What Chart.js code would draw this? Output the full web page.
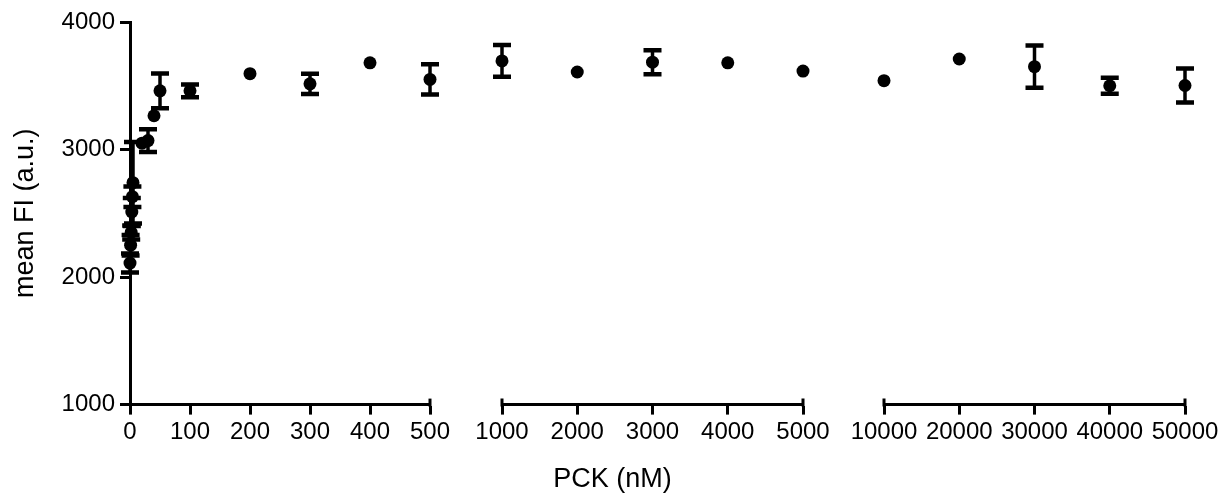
<!DOCTYPE html>
<html>
<head>
<meta charset="utf-8">
<script src="https://cdn.jsdelivr.net/npm/chart.js@4/dist/chart.umd.min.js"></script>
<style>
  html, body { margin: 0; padding: 0; background: #fff; }
  #wrap { width: 1225px; height: 497px; }
</style>
</head>
<body>
<div id="wrap"><canvas id="myChart"></canvas></div>
<script>
// PCK concentration (nM) -> mean FI, split in three axis segments
const seg1X = [0, 1, 2, 3, 4, 5, 20, 30, 40, 50, 100, 200, 300, 400, 500];
const seg1Y = [2110, 2250, 2350, 2510, 2630, 2740, 3050, 3070, 3265, 3460, 3460, 3595, 3515, 3680, 3550];
const seg1E = [75, 80, 55, 110, 80, 320, 0, 90, 0, 137, 50, 0, 80, 0, 118];

const seg2X = [1000, 2000, 3000, 4000, 5000];
const seg2Y = [3695, 3608, 3685, 3680, 3615];
const seg2E = [125, 0, 94, 0, 0];

const seg3X = [10000, 20000, 30000, 40000, 50000];
const seg3Y = [3540, 3710, 3650, 3500, 3502];
const seg3E = [0, 0, 165, 63, 133];

const yTicks = [1000, 2000, 3000, 4000];
const seg1Ticks = [0, 100, 200, 300, 400, 500];
const seg2Ticks = [1000, 2000, 3000, 4000, 5000];
const seg3Ticks = [10000, 20000, 30000, 40000, 50000];

Chart.defaults.font.family = "'Liberation Sans', Arial, sans-serif";
Chart.defaults.font.size = 24;
Chart.defaults.color = "#000";

function toPoints(xs, ys) {
  return xs.map((x, i) => ({ x: x, y: ys[i] }));
}

function useTicks(list) {
  return function (scale) {
    scale.ticks = list.map(v => ({ value: v }));
  };
}

function plain(v) {
  return String(v);
}

// fixed axis height; the last segment keeps room on the right
function fitX(rightRoom) {
  return function (scale) {
    scale.height = 45;
    scale.paddingLeft = 0;
    scale.paddingRight = rightRoom;
  };
}

function segmentAxis(min, max, weight, ticks, rightRoom) {
  return {
    type: "linear",
    position: "bottom",
    stack: "xs",
    stackWeight: weight,
    min: min,
    max: max,
    afterBuildTicks: useTicks(ticks),
    afterFit: fitX(rightRoom),
    border: { display: true, color: "#000", width: 3 },
    grid: { display: true, drawOnChartArea: false, drawTicks: true, tickLength: 10, tickWidth: 3, tickColor: "#000" },
    ticks: { padding: 3, maxRotation: 0, autoSkip: false, color: "#000", callback: plain }
  };
}

function gapAxis(weight) {
  return {
    type: "linear",
    position: "bottom",
    stack: "xs",
    stackWeight: weight,
    min: 0,
    max: 1,
    afterFit: fitX(0),
    border: { display: false },
    grid: { display: false },
    ticks: { display: false }
  };
}

function dotSet(xs, ys, errs, axisId) {
  return {
    data: toPoints(xs, ys),
    errors: errs,
    xAxisID: axisId,
    yAxisID: "y",
    pointRadius: 6.5,
    pointHoverRadius: 6.5,
    backgroundColor: "#000",
    borderWidth: 0,
    showLine: false,
    clip: false
  };
}

// vertical error bars with caps
const errorBars = {
  id: "errorBars",
  afterDatasetsDraw(chart) {
    const ctx = chart.ctx;
    const yScale = chart.scales.y;
    chart.data.datasets.forEach(ds => {
      const xScale = chart.scales[ds.xAxisID];
      ds.data.forEach((p, i) => {
        const e = ds.errors[i];
        if (!e) return;
        const px = xScale.getPixelForValue(p.x);
        const top = yScale.getPixelForValue(p.y + e);
        const bot = yScale.getPixelForValue(p.y - e);
        ctx.save();
        ctx.strokeStyle = "#000";
        ctx.lineWidth = 3.5;
        ctx.beginPath();
        ctx.moveTo(px, top);
        ctx.lineTo(px, bot);
        ctx.stroke();
        ctx.lineWidth = 4.5;
        ctx.beginPath();
        ctx.moveTo(px - 9, top);
        ctx.lineTo(px + 9, top);
        ctx.moveTo(px - 9, bot);
        ctx.lineTo(px + 9, bot);
        ctx.stroke();
        ctx.restore();
      });
    });
  }
};

// small upward end caps on each axis segment
const segmentEnds = {
  id: "segmentEnds",
  afterDraw(chart) {
    const ctx = chart.ctx;
    ["x1", "x2", "x3"].forEach(id => {
      const s = chart.scales[id];
      ctx.save();
      ctx.strokeStyle = "#000";
      ctx.lineWidth = 3;
      ctx.beginPath();
      [s.min, s.max].forEach(v => {
        if (id === "x1" && v === s.min) return;
        const px = s.getPixelForValue(v);
        ctx.moveTo(px, s.top - 6);
        ctx.lineTo(px, s.top + 2);
      });
      ctx.stroke();
      ctx.restore();
    });
  }
};

new Chart(document.getElementById("myChart"), {
  type: "scatter",
  data: {
    datasets: [
      dotSet(seg1X, seg1Y, seg1E, "x1"),
      dotSet(seg2X, seg2Y, seg2E, "x2"),
      dotSet(seg3X, seg3Y, seg3E, "x3")
    ]
  },
  options: {
    responsive: true,
    maintainAspectRatio: false,
    animation: false,
    events: [],
    layout: { padding: { left: 0, right: 0, top: 22, bottom: 0 } },
    plugins: {
      legend: { display: false },
      tooltip: { enabled: false },
      title: {
        display: true,
        position: "bottom",
        text: "PCK (nM)",
        color: "#000",
        font: { size: 27, weight: "normal" },
        padding: { top: 14, bottom: 1 }
      }
    },
    scales: {
      y: {
        type: "linear",
        position: "left",
        min: 1000,
        max: 4000,
        afterBuildTicks: useTicks(yTicks),
        afterFit(scale) {
          scale.width = 130;
          scale.paddingTop = 0;
          scale.paddingBottom = 0;
        },
        border: { display: true, color: "#000", width: 3 },
        grid: { display: true, drawOnChartArea: false, drawTicks: true, tickLength: 10, tickWidth: 3, tickColor: "#000" },
        ticks: { padding: 5, color: "#000", callback: plain },
        title: {
          display: true,
          text: "mean FI (a.u.)",
          color: "#000",
          font: { size: 27 },
          padding: { top: 9, bottom: 0 }
        }
      },
      x1: segmentAxis(0, 500, 300, seg1Ticks, 0),
      gap1: gapAxis(72),
      x2: segmentAxis(1000, 5000, 301, seg2Ticks, 0),
      gap2: gapAxis(81),
      x3: segmentAxis(10000, 50000, 301, seg3Ticks, 40)
    }
  },
  plugins: [errorBars, segmentEnds]
});
</script>
</body>
</html>
